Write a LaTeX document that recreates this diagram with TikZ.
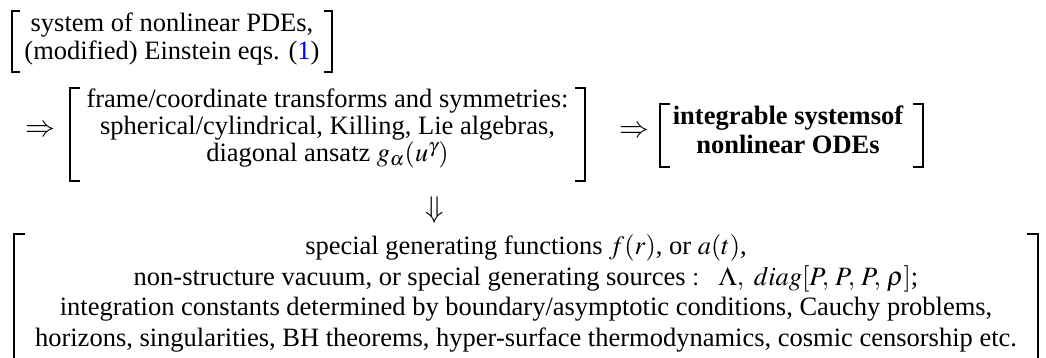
\documentclass[tikz,border=0pt]{standalone}
\usepackage{mathptmx}
\usepackage[no-math]{fontspec}
\setmainfont{Liberation Serif}
\usepackage{xcolor}
\begin{document}
\begin{tikzpicture}[x=1pt,y=-1pt]
\tikzset{
  line/.style={anchor=base, inner sep=0pt, font=\fontsize{26.5}{28}\selectfont},
  bline/.style={line, font=\fontsize{26.5}{28}\selectfont\bfseries},
  sym/.style={inner sep=0pt, font=\fontsize{30}{30}\selectfont},
  frame/.style={inner sep=0pt, draw=none},
  brk/.style={line width=1.5pt, line cap=butt},
}
\useasboundingbox (0,0) rectangle (1046,358);
\newcommand\drawbrk[2][10]{%
  \draw[brk] ([xshift=#1pt]#2.north west) -| (#2.south west) -- ++(#1,0);
  \draw[brk] ([xshift=-#1pt]#2.north east) -| (#2.south east) -- ++(-#1,0);}
% bracket frames
\node[frame, minimum width=320pt, minimum height=61pt] (b1) at (172,41.5) {};
\node[frame, minimum width=515pt, minimum height=93pt] (b2) at (327.5,134.5) {};
\node[frame, minimum width=263pt, minimum height=63pt] (b3) at (791.5,135.5) {};
\node[frame, minimum width=1024pt, minimum height=136pt] (b4) at (526,302) {};
% texts
\node[line] (b1t1) at (172,32) {system of nonlinear PDEs,};
\node[line] (b1t2) at (172,60) {(modified) Einstein eqs. ({\color{blue}1})};
\node[sym] (a1) at (40.5,131) {$\Rightarrow$};
\node[line] (b2t1) at (327.5,108) {frame/coordinate transforms and symmetries:};
\node[line] (b2t2) at (327.5,135) {spherical/cylindrical, Killing, Lie algebras,};
\node[line] (b2t3) at (327.5,162) {diagonal ansatz $g_\alpha(u^\gamma)$};
\node[sym] (a2) at (634.5,132) {$\Rightarrow$};
\node[bline] (b3t1) at (788,125) {integrable systemsof};
\node[bline] (b3t2) at (788,154) {nonlinear ODEs};
\node[sym] (a3) at (435,210) {$\Downarrow$};
\node[line] (b4t1) at (526,254) {special generating functions $f(r)$, or $a(t)$,};
\node[line] (b4t2) at (526,285) {non-structure vacuum, or special generating sources $:\ \ \Lambda,\ diag[P,\,P,\,P,\,\rho]$;};
\node[line] (b4t3) at (526,315.5) {integration constants determined by boundary/asymptotic conditions, Cauchy problems,};
\node[line] (b4t4) at (526,346) {horizons, singularities, BH theorems, hyper-surface thermodynamics, cosmic censorship etc.};
\drawbrk[8]{b1}
\drawbrk{b2}
\drawbrk{b3}
\drawbrk[11]{b4}
\end{tikzpicture}
\end{document}
